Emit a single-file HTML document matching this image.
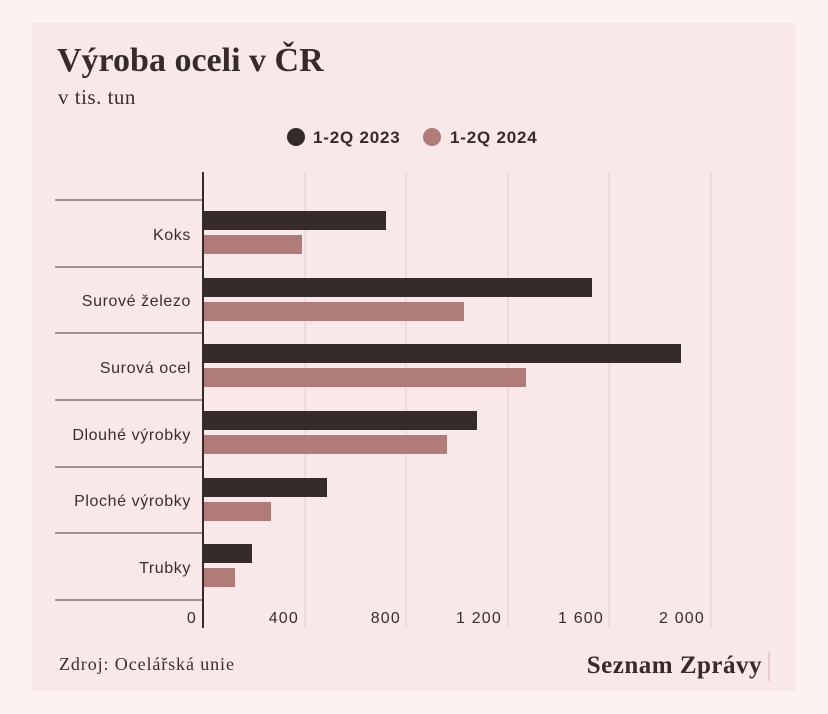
<!DOCTYPE html>
<html><head><meta charset="utf-8"><style>
body{margin:0;background:#fdf1f2;}
svg{display:block}
</style></head><body>
<svg width="828" height="714" xmlns="http://www.w3.org/2000/svg">
<rect width="828" height="714" fill="#fdf1f2"/>
<rect x="32" y="23" width="764" height="668" fill="#f8e8e9"/>
<text x="57" y="71" font-family="Liberation Serif, serif" font-weight="bold" font-size="34" fill="#362b2a">Výroba oceli v ČR</text>
<text x="58" y="104" font-family="Liberation Serif, serif" font-size="21" fill="#3a2e2d" letter-spacing="0.5">v tis. tun</text>
<circle cx="296" cy="137" r="9" fill="#362b2a"/>
<text x="313" y="143" font-family="Liberation Sans, sans-serif" font-weight="bold" font-size="17" letter-spacing="0.8" fill="#362b2a">1-2Q 2023</text>
<circle cx="432" cy="137" r="9" fill="#b07c7a"/>
<text x="450" y="143" font-family="Liberation Sans, sans-serif" font-weight="bold" font-size="17" letter-spacing="0.8" fill="#362b2a">1-2Q 2024</text>
<g stroke="#e8d6d7" stroke-width="1.5">
<line x1="305" y1="172" x2="305" y2="628"/><line x1="406" y1="172" x2="406" y2="628"/>
<line x1="508" y1="172" x2="508" y2="628"/><line x1="609" y1="172" x2="609" y2="628"/>
<line x1="711" y1="172" x2="711" y2="628"/>
</g>
<g stroke="#4a3c3b" stroke-width="1">
<line x1="55" y1="200" x2="203" y2="200"/><line x1="55" y1="267" x2="203" y2="267"/>
<line x1="55" y1="333" x2="203" y2="333"/><line x1="55" y1="400" x2="203" y2="400"/>
<line x1="55" y1="467" x2="203" y2="467"/><line x1="55" y1="533" x2="203" y2="533"/>
<line x1="55" y1="600" x2="203" y2="600"/>
</g>
<g fill="#362b2a">
<rect x="204" y="211" width="182" height="19"/>
<rect x="204" y="278" width="388" height="19"/>
<rect x="204" y="344" width="477" height="19"/>
<rect x="204" y="411" width="273" height="19"/>
<rect x="204" y="478" width="123" height="19"/>
<rect x="204" y="544" width="48" height="19"/>
</g>
<g fill="#b07c7a">
<rect x="204" y="235" width="98" height="19"/>
<rect x="204" y="302" width="260" height="19"/>
<rect x="204" y="368" width="322" height="19"/>
<rect x="204" y="435" width="243" height="19"/>
<rect x="204" y="502" width="67" height="19"/>
<rect x="204" y="568" width="31" height="19"/>
</g>
<line x1="203" y1="172" x2="203" y2="628" stroke="#362b2a" stroke-width="2"/>
<g font-family="Liberation Sans, sans-serif" font-size="16" fill="#3a2e2d" text-anchor="end" letter-spacing="0.6">
<text x="191" y="240">Koks</text>
<text x="191" y="306">Surové železo</text>
<text x="191" y="373">Surová ocel</text>
<text x="191" y="440">Dlouhé výrobky</text>
<text x="191" y="506">Ploché výrobky</text>
<text x="191" y="573">Trubky</text>
</g>
<g font-family="Liberation Sans, sans-serif" font-size="16" fill="#3a2e2d" text-anchor="end" letter-spacing="1.2">
<text x="197" y="623">0</text>
<text x="299" y="623">400</text>
<text x="401" y="623">800</text>
<text x="502" y="623">1 200</text>
<text x="604" y="623">1 600</text>
<text x="705" y="623">2 000</text>
</g>
<text x="59" y="670" font-family="Liberation Serif, serif" font-size="18" letter-spacing="0.9" fill="#3a2e2d">Zdroj: Ocelářská unie</text>
<text x="762" y="673" text-anchor="end" font-family="Liberation Serif, serif" font-weight="bold" font-size="25" letter-spacing="0.5" fill="#362b2a">Seznam Zprávy</text>
<line x1="769" y1="652" x2="769" y2="681" stroke="#e6bfc2" stroke-width="1.5"/>
</svg>
</body></html>
